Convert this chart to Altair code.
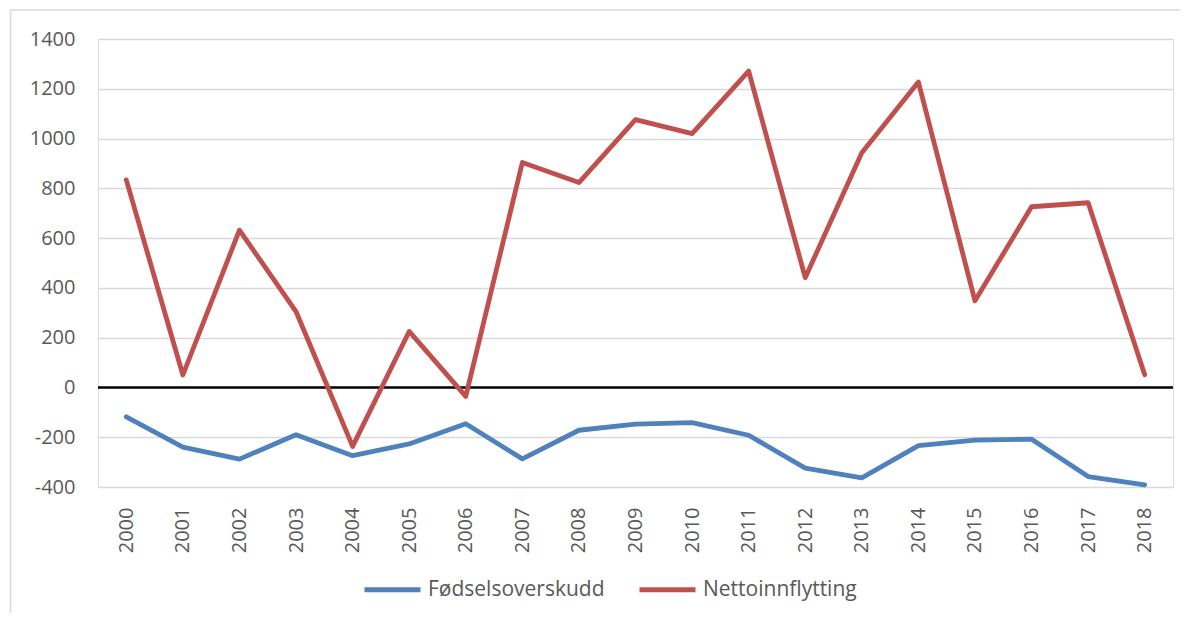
import altair as alt
import pandas as pd

years = [str(y) for y in range(2000, 2019)]
fodsel = [-118, -240, -288, -190, -274, -227, -146, -287, -172, -147, -141,
          -192, -324, -363, -234, -212, -208, -358, -391]
netto = [834, 50, 632, 305, -237, 225, -36, 904, 823, 1076, 1020, 1271,
         441, 943, 1227, 348, 726, 742, 51]
series = ["Fødselsoverskudd", "Nettoinnflytting"]
colors = ["#4F81BD", "#C0504D"]
y_ticks = list(range(-400, 1401, 200))

rows = []
for i, yr in enumerate(years):
    rows.append({"year": yr, "serie": series[0], "value": fodsel[i]})
    rows.append({"year": yr, "serie": series[1], "value": netto[i]})
df = pd.DataFrame(rows)

FONT = "Open Sans"
TXT = "#595959"

y_scale = alt.Scale(domain=[-400, 1400], nice=False, zero=False)

lines = alt.Chart(df).mark_line(strokeWidth=4.8, strokeCap="round", strokeJoin="round").encode(
    x=alt.X("year:O", sort=years, title=None,
            axis=alt.Axis(labelAngle=270, labelFontSize=20, labelFont=FONT, labelColor=TXT,
                          labelPadding=20, domain=False, ticks=False, grid=False)),
    y=alt.Y("value:Q", scale=y_scale, title=None,
            axis=alt.Axis(values=y_ticks, labelExpr="'' + datum.value", labelFontSize=20,
                          labelFont=FONT, labelColor=TXT,
                          labelPadding=23, domain=False, ticks=False, grid=True,
                          gridColor="#D9D9D9", gridWidth=1.5)),
    color=alt.Color("serie:N", scale=alt.Scale(domain=series, range=colors), title=None,
                    legend=alt.Legend(orient="none", legendX=264, legendY=520, direction="horizontal",
                                      symbolType="stroke", symbolSize=3136, symbolStrokeWidth=5,
                                      labelFontSize=21, labelFont=FONT, labelColor=TXT, labelLimit=0,
                                      labelOffset=5, columnPadding=24, padding=0)),
)

zero = alt.Chart(pd.DataFrame({"v": [0]})).mark_rule(color="black", strokeWidth=2.6).encode(
    y=alt.Y("v:Q", scale=y_scale)
)

frame_df = pd.DataFrame({"a": [0]})
frame_top = alt.Chart(frame_df).mark_rule(color="#D9D9D9", strokeWidth=1.5).encode(
    x=alt.value(-87.5), x2=alt.value(1082), y=alt.value(-29)
)
frame_left = alt.Chart(frame_df).mark_rule(color="#D9D9D9", strokeWidth=1.5).encode(
    x=alt.value(-87.5), y=alt.value(-29), y2=alt.value(574)
)

chart = alt.layer(frame_top, frame_left, zero, lines).properties(
    width=1075, height=448,
    padding={"left": 1, "top": 1, "right": 0, "bottom": 0},
).configure_view(stroke=None).configure(background="white")

chart.save("out.html", embed_options={"renderer": "svg", "actions": False})
